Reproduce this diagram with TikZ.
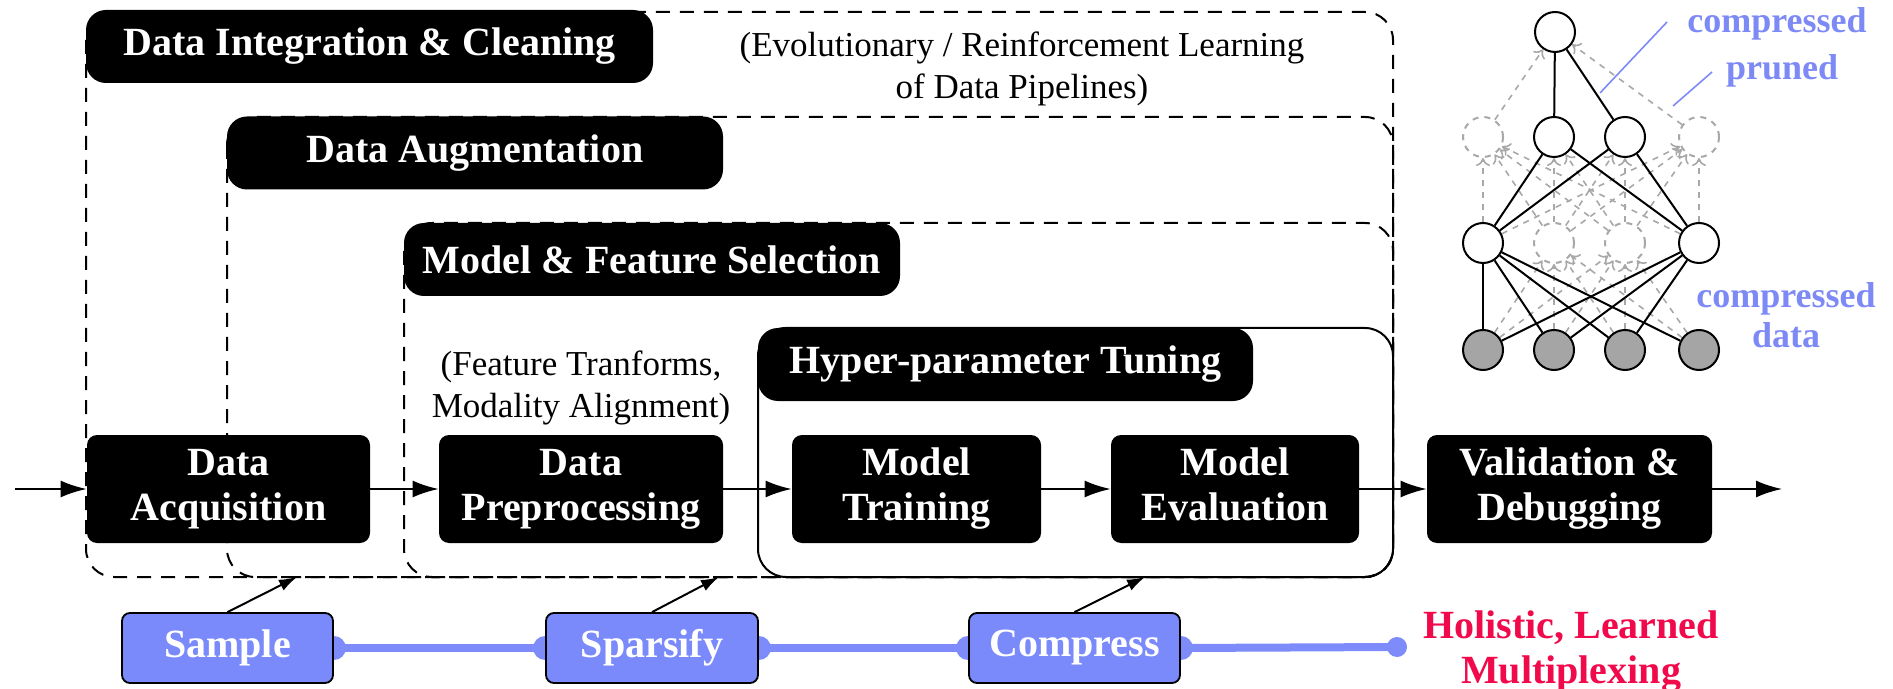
\documentclass[tikz,border=0pt]{standalone}
\usepackage{fontspec}
\setmainfont{Liberation Serif}
\usetikzlibrary{arrows.meta,backgrounds}
\definecolor{bluefill}{RGB}{122,138,250}
\definecolor{blueline}{RGB}{125,140,250}
\definecolor{bluetext}{RGB}{125,138,245}
\definecolor{redtext}{RGB}{240,10,75}
\definecolor{prunegray}{RGB}{168,168,168}
\definecolor{nodegray}{RGB}{165,165,165}
\newcommand{\lblfont}{\fontsize{20}{22.5}\selectfont\bfseries}
\newcommand{\notefont}{\fontsize{17.5}{21}\selectfont}
\newcommand{\annfont}{\fontsize{18}{20.5}\selectfont\bfseries}
\newcommand{\twoline}[2]{#1\strut\\#2\strut}
\tikzset{
  frame/.style={draw, line width=1pt, dash pattern=on 7pt off 5pt, rounded corners=14pt},
  solidframe/.style={draw, line width=1pt, rounded corners=14pt},
  lbl/.style={fill=black, text=white, rounded corners=10pt, font=\lblfont, inner sep=0pt, align=center, minimum height=36.5pt},
  proc/.style={fill=black, text=white, rounded corners=5pt, font=\lblfont, inner sep=0pt, align=center, minimum height=54pt},
  bluebox/.style={fill=bluefill, draw=black, line width=0.9pt, text=white, rounded corners=4pt, font=\lblfont, inner sep=0pt, minimum height=35pt, minimum width=105.5pt},
  flow/.style={line width=1pt, -{Latex[length=13pt,width=8.5pt]}},
  upar/.style={line width=1pt, -{Latex[length=9pt,width=6pt]}},
  bluelink/.style={draw=blueline, line width=4pt},
  knob/.style={circle, fill=blueline, inner sep=0pt, minimum size=10pt},
  note/.style={font=\notefont, align=center, inner sep=0pt},
  ann/.style={font=\annfont, text=bluetext, inner sep=0pt, anchor=base},
  annline/.style={draw=bluetext, line width=0.8pt},
  nnode/.style={circle, draw, line width=1pt, minimum size=20pt, inner sep=0pt, fill=white},
  pnode/.style={circle, draw=prunegray, dashed, line width=1pt, minimum size=20pt, inner sep=0pt},
  inode/.style={circle, draw, line width=1pt, minimum size=20pt, inner sep=0pt, fill=nodegray},
  nedge/.style={line width=1pt},
  pedge/.style={draw=prunegray, dashed, line width=0.8pt, -{To[length=4pt,width=7pt]}}
}
\begin{document}
\begin{tikzpicture}[x=0.5pt,y=-0.5pt]
\useasboundingbox (0,0) rectangle (1893,689);
% frames
\draw[frame] (86,12) rectangle (1393,577);
\draw[frame] (227,117) rectangle (1393,577);
\draw[frame] (404,223) rectangle (1393,577);
\draw[solidframe] (758,328) rectangle (1393,577);
% frame labels
\node[lbl, minimum width=283.5pt] (labA) at (369.5,46.5) {Data Integration \& Cleaning};
\node[lbl, minimum width=248pt] (labB) at (475,153) {Data Augmentation};
\node[lbl, minimum width=248pt] (labC) at (652,259.5) {Model \& Feature Selection};
\node[lbl, minimum width=247.5pt] (labD) at (1005.5,364.5) {Hyper-parameter Tuning};
% notes
\node[note] (evo) at (1022,69) {(Evolutionary / Reinforcement Learning\\of Data Pipelines)};
\node[note] (feat) at (581,388) {(Feature Tranforms,\\Modality Alignment)};
% process boxes
\node[proc, minimum width=141.5pt] (acq) at (228.5,489) {\twoline{Data}{Acquisition}};
\node[proc, minimum width=142pt] (prep) at (581,489) {\twoline{Data}{Preprocessing}};
\node[proc, minimum width=124.5pt] (train) at (916.5,489) {\twoline{Model}{Training}};
\node[proc, minimum width=124pt] (eval) at (1235,489) {\twoline{Model}{Evaluation}};
\node[proc, minimum width=142.5pt] (valid) at (1569.5,489) {\twoline{Validation \&}{Debugging}};
\coordinate (in) at (15,489);
\coordinate (out) at (1782,489);
\draw[flow] (in) -- (acq);
\draw[flow] (acq) -- (prep);
\draw[flow] (prep) -- (train);
\draw[flow] (train) -- (eval);
\draw[flow] (eval) -- (valid);
\draw[flow] (valid) -- (out);
% blue boxes
\node[bluebox] (sample) at (227.5,648) {Sample};
\node[bluebox, minimum width=106pt] (sparsify) at (652,648) {Sparsify};
\node[bluebox] (compress) at (1074.5,648) {Compress};
\coordinate (lineend) at (1397,647);
\coordinate (tA) at (297,577);
\coordinate (tB) at (719,577);
\coordinate (tC) at (1145,577);
\draw[upar] (sample.north) -- (tA);
\draw[upar] (sparsify.north) -- (tB);
\draw[upar] (compress.north) -- (tC);
\begin{pgfonlayer}{background}
\draw[bluelink] (sample.east) -- (sparsify.west);
\draw[bluelink] (sparsify.east) -- (compress.west);
\draw[bluelink] (compress.east) -- (lineend);
\node[knob, minimum size=12pt] at (sample.east) {};
\node[knob, minimum size=12pt] at (sparsify.west) {};
\node[knob, minimum size=12pt] at (sparsify.east) {};
\node[knob, minimum size=12pt] at (compress.west) {};
\node[knob, minimum size=12pt] at (compress.east) {};
\end{pgfonlayer}
\node[knob] (enddot) at (lineend) {};
\node[font=\lblfont, text=redtext, align=center, inner sep=0pt] (hlm) at (1571,652) {Holistic, Learned\\Multiplexing};
% neural network
\node[nnode] (T) at (1555,32) {};
\node[pnode] (a1) at (1483,137) {};
\node[nnode] (a2) at (1554,137) {};
\node[nnode] (a3) at (1625,137) {};
\node[pnode] (a4) at (1699,137) {};
\node[nnode] (b1) at (1483,243) {};
\node[pnode] (b2) at (1554,243) {};
\node[pnode] (b3) at (1625,243) {};
\node[nnode] (b4) at (1699,243) {};
\node[inode] (c1) at (1483,350) {};
\node[inode] (c2) at (1554,350) {};
\node[inode] (c3) at (1625,350) {};
\node[inode] (c4) at (1699,350) {};
\begin{pgfonlayer}{background}
\foreach \l in {c1,c2,c3,c4}{
  \draw[pedge] (\l) -- (b2);
  \draw[pedge] (\l) -- (b3);
}
\foreach \l in {b2,b3}{
  \foreach \u in {a1,a2,a3,a4}{\draw[pedge] (\l) -- (\u);}
}
\foreach \l in {b1,b4}{
  \draw[pedge] (\l) -- (a1);
  \draw[pedge] (\l) -- (a4);
}
\draw[pedge] (a1) -- (T);
\draw[pedge] (a4) -- (T);
\draw[nedge] (T) -- (a2);
\draw[nedge] (T) -- (a3);
\foreach \u in {a2,a3}{
  \draw[nedge] (\u) -- (b1);
  \draw[nedge] (\u) -- (b4);
}
\foreach \l in {c1,c2,c3,c4}{\draw[nedge] (b1) -- (\l);}
\foreach \l in {c1,c2,c3}{\draw[nedge] (b4) -- (\l);}
\end{pgfonlayer}
% annotations
\node[ann] (ann1) at (1777,33) {compressed};
\node[ann] (ann2) at (1782,80) {pruned};
\node[ann] (ann3) at (1786,307) {compressed};
\node[ann] (ann4) at (1786,348) {data};
\coordinate (p1a) at (1667,22);
\coordinate (p1b) at (1600,93);
\coordinate (p2a) at (1712,72);
\coordinate (p2b) at (1673,106);
\draw[annline] (p1a) -- (p1b);
\draw[annline] (p2a) -- (p2b);
\end{tikzpicture}
\end{document}
